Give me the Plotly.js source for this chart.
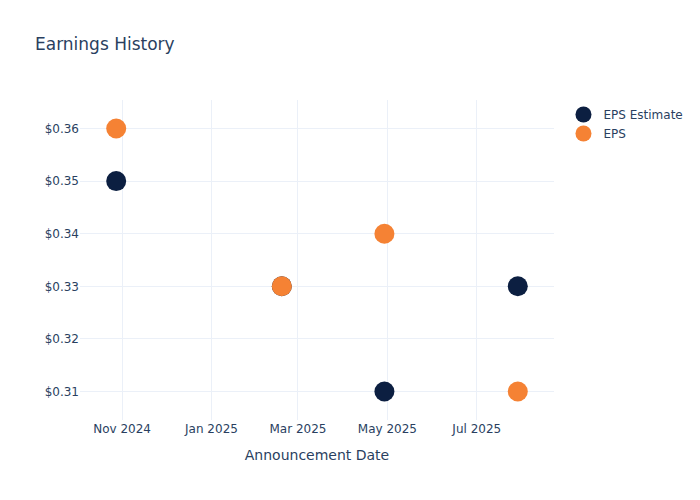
<!DOCTYPE html>
<html>
<head>
<meta charset="utf-8">
<script src="https://cdn.plot.ly/plotly-3.0.1.min.js"></script>
<style>body{margin:0;padding:0;}#chart{width:700px;height:500px;}</style>
</head>
<body>
<div id="chart"></div>
<script>
const dates = ["2024-10-28", "2025-02-18", "2025-04-29", "2025-07-29"];
const epsEstimate = [0.35, 0.33, 0.31, 0.33];
const epsActual = [0.36, 0.33, 0.34, 0.31];

const traces = [
  {
    x: dates, y: epsEstimate, name: "EPS Estimate", mode: "markers", type: "scatter",
    marker: {color: "#0c1f41", size: 20}
  },
  {
    x: dates, y: epsActual, name: "EPS", mode: "markers", type: "scatter",
    marker: {color: "#f58234", size: 20}
  }
];

const axisStyle = {
  gridcolor: "#EBF0F8", showline: false, zeroline: false,
  ticks: "", automargin: true
};

const layout = {
  width: 700, height: 500,
  font: {family: "DejaVu Sans, Verdana, sans-serif", color: "#2a3f5f", size: 12},
  paper_bgcolor: "white", plot_bgcolor: "white",
  title: {text: "Earnings History", x: 0.05},
  xaxis: Object.assign({}, axisStyle, {title: {text: "Announcement Date", standoff: 15}, type: "date"}),
  yaxis: Object.assign({}, axisStyle, {tickformat: "$.2f", title: {standoff: 15}}),
  legend: {itemsizing: "trace"}
};

Plotly.newPlot("chart", traces, layout, {displayModeBar: false});
</script>
</body>
</html>
